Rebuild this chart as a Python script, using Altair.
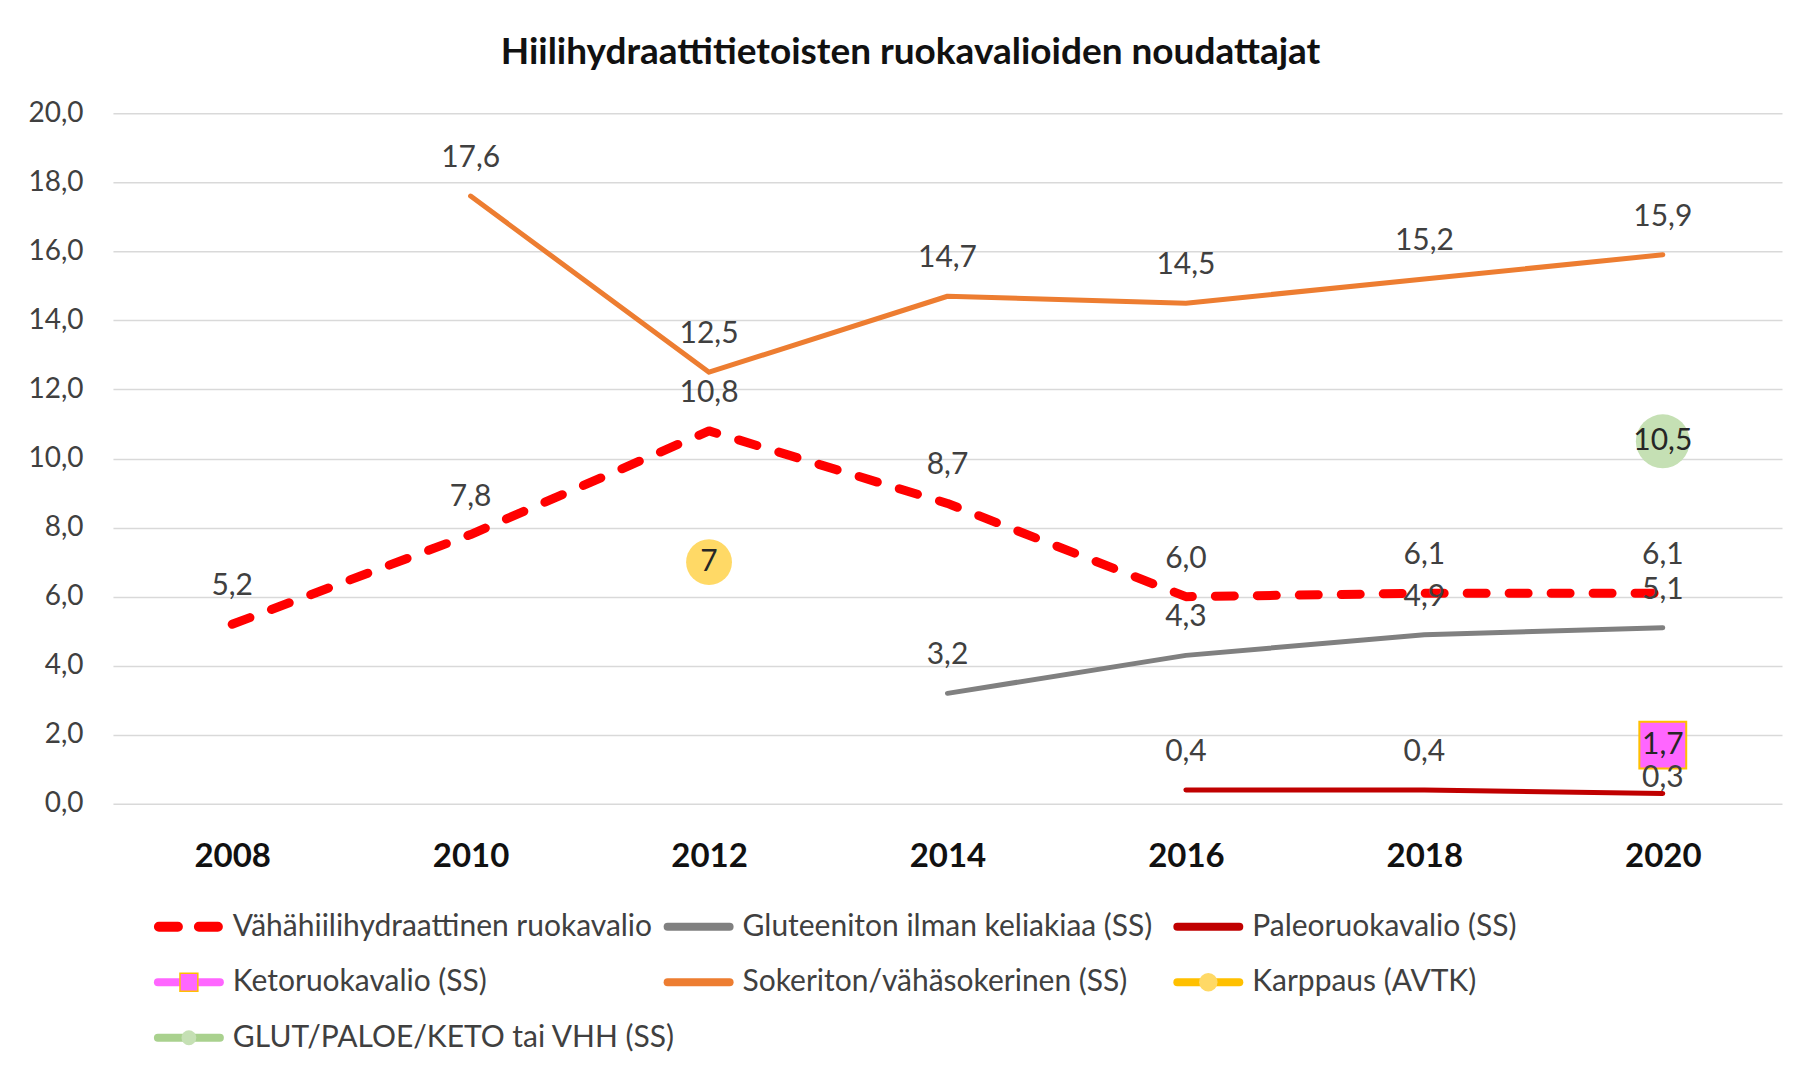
import altair as alt
import pandas as pd

# ---- data ----
years = [2008, 2010, 2012, 2014, 2016, 2018, 2020]
vahahiili = [5.2, 7.8, 10.8, 8.7, 6.0, 6.1, 6.1]
gluteeniton = [None, None, None, 3.2, 4.3, 4.9, 5.1]
paleo = [None, None, None, None, 0.4, 0.4, 0.3]
keto = [None, None, None, None, None, None, 1.7]
sokeriton = [None, 17.6, 12.5, 14.7, 14.5, 15.2, 15.9]
karppaus = [None, None, 7, None, None, None, None]
glut = [None, None, None, None, None, None, 10.5]

series_names = [
    "Vähähiilihydraattinen ruokavalio",
    "Gluteeniton ilman keliakiaa (SS)",
    "Paleoruokavalio (SS)",
    "Ketoruokavalio (SS)",
    "Sokeriton/vähäsokerinen (SS)",
    "Karppaus (AVTK)",
    "GLUT/PALOE/KETO tai VHH (SS)",
]
series_values = [vahahiili, gluteeniton, paleo, keto, sokeriton, karppaus, glut]
y_ticks = [0, 2, 4, 6, 8, 10, 12, 14, 16, 18, 20]

title_text = "Hiilihydraattitietoisten ruokavalioiden noudattajat"

# ---- styles ----
line_colors = ["#FF0000", "#808080", "#C00000", "#FF66FF", "#ED7D31", "#FFC000", "#A9D18E"]
FONT = "Lato"
LABEL_COLOR = "#404040"

rows = []
for name, vals in zip(series_names, series_values):
    for yr, v in zip(years, vals):
        if v is not None:
            rows.append({"year": yr, "series": name, "value": v})
df = pd.DataFrame(rows)

VH, GL, PA, KE, SO, KA, GP = series_names

label_expr = ("datum.series === 'Karppaus (AVTK)' ? format(datum.value, 'd') : "
              "replace(format(datum.value, '.1f'), '.', ',')")

W, H = 1670, 691

base = alt.Chart(df).transform_calculate(label=label_expr).encode(
    x=alt.X("year:O", scale=alt.Scale(type="point", padding=0.5),
            axis=alt.Axis(title=None, labelAngle=0, labelFont=FONT, labelFontWeight="bold",
                          labelFontSize=33, labelColor="#111111", labelPadding=37,
                          domain=False, ticks=False, grid=False)),
    y=alt.Y("value:Q", scale=alt.Scale(domain=[0, 20], nice=False, zero=True),
            axis=alt.Axis(title=None, values=y_ticks,
                          labelExpr="replace(format(datum.value, '.1f'), '.', ',')",
                          labelFont=FONT, labelFontSize=28, labelColor=LABEL_COLOR,
                          labelPadding=30, domain=False, ticks=False, grid=True,
                          gridColor="#D9D9D9", gridWidth=1.5)),
)

solid_series = [GL, PA, SO]
solid = base.transform_filter(
    alt.FieldOneOfPredicate(field="series", oneOf=solid_series)
).mark_line(strokeWidth=5, strokeCap="round", strokeJoin="round").encode(
    color=alt.Color("series:N", scale=alt.Scale(domain=series_names, range=line_colors), legend=None),
    detail="series:N",
)

dashed = base.transform_filter(alt.datum.series == VH).mark_line(
    strokeWidth=9, strokeCap="round", strokeJoin="round", strokeDash=[19, 23], color="#FF0000"
)

pt_keto = base.transform_filter(alt.datum.series == KE).mark_point(
    shape="square", size=2200, filled=True, fill="#FF66FF", stroke="#FFC000", strokeWidth=2, opacity=1
)
pt_karp = base.transform_filter(alt.datum.series == KA).mark_point(
    shape="circle", size=2100, filled=True, fill="#FFD966", opacity=1
)
pt_glut = base.transform_filter(alt.datum.series == GP).mark_point(
    shape="circle", size=2900, filled=True, fill="#C5E0B4", opacity=1
)

marker_series = [KE, KA, GP]
txt_main = base.transform_filter(
    ~alt.FieldOneOfPredicate(field="series", oneOf=marker_series)
).transform_filter(
    ~((alt.datum.series == PA) & (alt.datum.year == 2020))
).mark_text(font=FONT, fontSize=30, color=LABEL_COLOR, dy=-38).encode(text="label:N")

txt_paleo_last = base.transform_filter(
    (alt.datum.series == PA) & (alt.datum.year == 2020)
).mark_text(font=FONT, fontSize=30, color=LABEL_COLOR, dy=-15).encode(text="label:N")

txt_markers = base.transform_filter(
    alt.FieldOneOfPredicate(field="series", oneOf=marker_series)
).mark_text(font=FONT, fontSize=30, color="#262626", dy=0).encode(text="label:N")

main = alt.layer(solid, dashed, pt_keto, pt_karp, pt_glut, txt_main, txt_paleo_last, txt_markers).properties(
    width=W, height=H,
    title=alt.Title(title_text, font=FONT, fontSize=37, fontWeight="bold", color="#111111",
                    anchor="middle", offset=27, dx=-37),
)

# ---- legend (built from the series names) ----
leg = pd.DataFrame({
    "series": series_names,
    "col": [i % 3 for i in range(len(series_names))],
    "row": [i // 3 for i in range(len(series_names))],
})

lx = alt.X("col:Q", scale=alt.Scale(domain=[0, 2], range=[41, 1061]), axis=None)
lx2 = alt.X2("col:Q")
ly = alt.Y("row:Q", scale=alt.Scale(domain=[0, 2], range=[25, 136]), axis=None)
lbase = alt.Chart(leg).encode(x=lx, y=ly)

leg_dash = lbase.transform_filter(alt.datum.series == VH).mark_rule(
    strokeWidth=10, strokeCap="round", strokeDash=[19, 21], color="#FF0000", xOffset=5, x2Offset=65
).encode(x2=lx2)
leg_solid = lbase.transform_filter(alt.datum.series != VH).mark_rule(
    strokeWidth=8, strokeCap="round", xOffset=4, x2Offset=66
).encode(
    x2=lx2,
    color=alt.Color("series:N", scale=alt.Scale(domain=series_names, range=line_colors), legend=None),
)
leg_keto = lbase.transform_filter(alt.datum.series == KE).mark_point(
    shape="square", size=320, filled=True, fill="#FF66FF", stroke="#FFC000", strokeWidth=1.5,
    opacity=1, xOffset=35
)
leg_karp = lbase.transform_filter(alt.datum.series == KA).mark_point(
    shape="circle", size=340, filled=True, fill="#FFD966", opacity=1, xOffset=35
)
leg_glut = lbase.transform_filter(alt.datum.series == GP).mark_point(
    shape="circle", size=220, filled=True, fill="#C5E0B4", opacity=1, xOffset=35
)
leg_text = lbase.mark_text(
    align="left", baseline="middle", dx=79, font=FONT, fontSize=30, color=LABEL_COLOR
).encode(text="series:N")

legend = alt.layer(leg_dash, leg_solid, leg_keto, leg_karp, leg_glut, leg_text).properties(
    width=W, height=150
)

chart = alt.vconcat(main, legend, spacing=28).properties(
    padding={"left": 19, "top": 26, "right": 6, "bottom": 4}
).configure(background="white", view=alt.ViewConfig(strokeWidth=0, stroke="transparent"))

chart.save("out.html", embed_options={"renderer": "svg", "actions": False})
